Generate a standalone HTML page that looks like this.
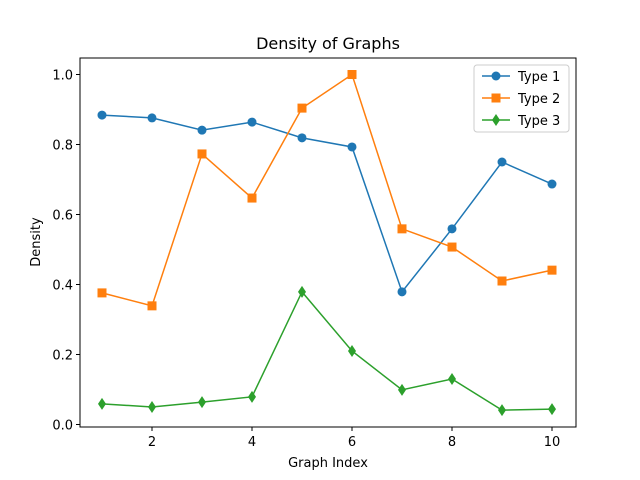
<!DOCTYPE html>
<html><head><meta charset="utf-8"><style>body{margin:0;background:#fff}svg{display:block;font-family:"DejaVu Sans","Liberation Sans",sans-serif}</style></head>
<body>
<svg id="chart" width="640" height="480">
<rect x="0" y="0" width="640" height="480" fill="#fff"/>
<text x="328" y="49" font-size="16" text-anchor="middle">Density of Graphs</text>
<text x="328" y="467" font-size="13" text-anchor="middle">Graph Index</text>
<text x="40" y="242" font-size="13" text-anchor="middle" transform="rotate(-90 40 242)">Density</text>
<g id="ticks"></g><g id="series"></g>
<rect x="80" y="58" width="496" height="369" fill="none" stroke="#000" stroke-width="1"/>
<g>
<rect x="474" y="65" width="95" height="67" rx="3" fill="#fff" fill-opacity="0.8" stroke="#ccc"/>
<g id="legend-items"></g>
</g>
</svg>
<script>
const xValues=[1,2,3,4,5,6,7,8,9,10];
const type1=[0.884,0.876,0.841,0.864,0.819,0.793,0.379,0.559,0.75,0.687];
const type2=[0.376,0.339,0.773,0.647,0.904,1.0,0.559,0.507,0.41,0.441];
const type3=[0.059,0.05,0.064,0.079,0.379,0.21,0.099,0.13,0.041,0.044];
const xTicks=[2,4,6,8,10];
const yTicks=[0.0,0.2,0.4,0.6,0.8,1.0];
const seriesNames=["Type 1","Type 2","Type 3"];
const NS="http://www.w3.org/2000/svg";
function sx(v){return 102+(v-1)*50;}
function sy(v){return 424.5-v*350;}
function mk(t,a,p){const e=document.createElementNS(NS,t);for(const k in a)e.setAttribute(k,a[k]);p.appendChild(e);return e;}
const tk=document.getElementById('ticks');
xTicks.forEach(v=>{const g=mk('g',{},tk);


mk('line',{x1:sx(v),x2:sx(v),y1:427,y2:431,stroke:'#000'},g);
const t=mk('text',{x:sx(v),y:446,'font-size':13,'text-anchor':'middle'},g);t.textContent=v;});
yTicks.forEach(v=>{const g=mk('g',{},tk);


mk('line',{x1:76,x2:80,y1:sy(v),y2:sy(v),stroke:'#000'},g);
const t=mk('text',{x:73,y:sy(v)+5,'font-size':13,'text-anchor':'end'},g);t.textContent=v.toFixed(1);});
const colors=['#1f77b4','#ff7f0e','#2ca02c'];
const data=[type1,type2,type3];
function marker(k,x,y,c,p){
 if(k===0)return mk('circle',{cx:x,cy:y,r:4.5,fill:c},p);
 if(k===1)return mk('rect',{x:x-4.5,y:y-4.5,width:9,height:9,fill:c},p);
 return mk('polygon',{points:`${x},${y-6} ${x+4},${y} ${x},${y+6} ${x-4},${y}`,fill:c},p);}
const sg=document.getElementById('series');
data.forEach((arr,k)=>{const g=mk('g',{},sg);


mk('polyline',{points:arr.map((v,i)=>sx(xValues[i])+','+sy(v)).join(' '),fill:'none',stroke:colors[k],'stroke-width':1.5},g);
arr.forEach((v,i)=>{const m=marker(k,sx(xValues[i]),sy(v),colors[k],g);

});});
const lg=document.getElementById('legend-items');
seriesNames.forEach((n,k)=>{const y=76+k*22;const g=mk('g',{},lg);


mk('line',{x1:482,x2:510,y1:y,y2:y,stroke:colors[k],'stroke-width':1.5},g);
marker(k,496,y,colors[k],g);
const t=mk('text',{x:518,y:y+5,'font-size':13},g);t.textContent=n;});
</script>
</body></html>
